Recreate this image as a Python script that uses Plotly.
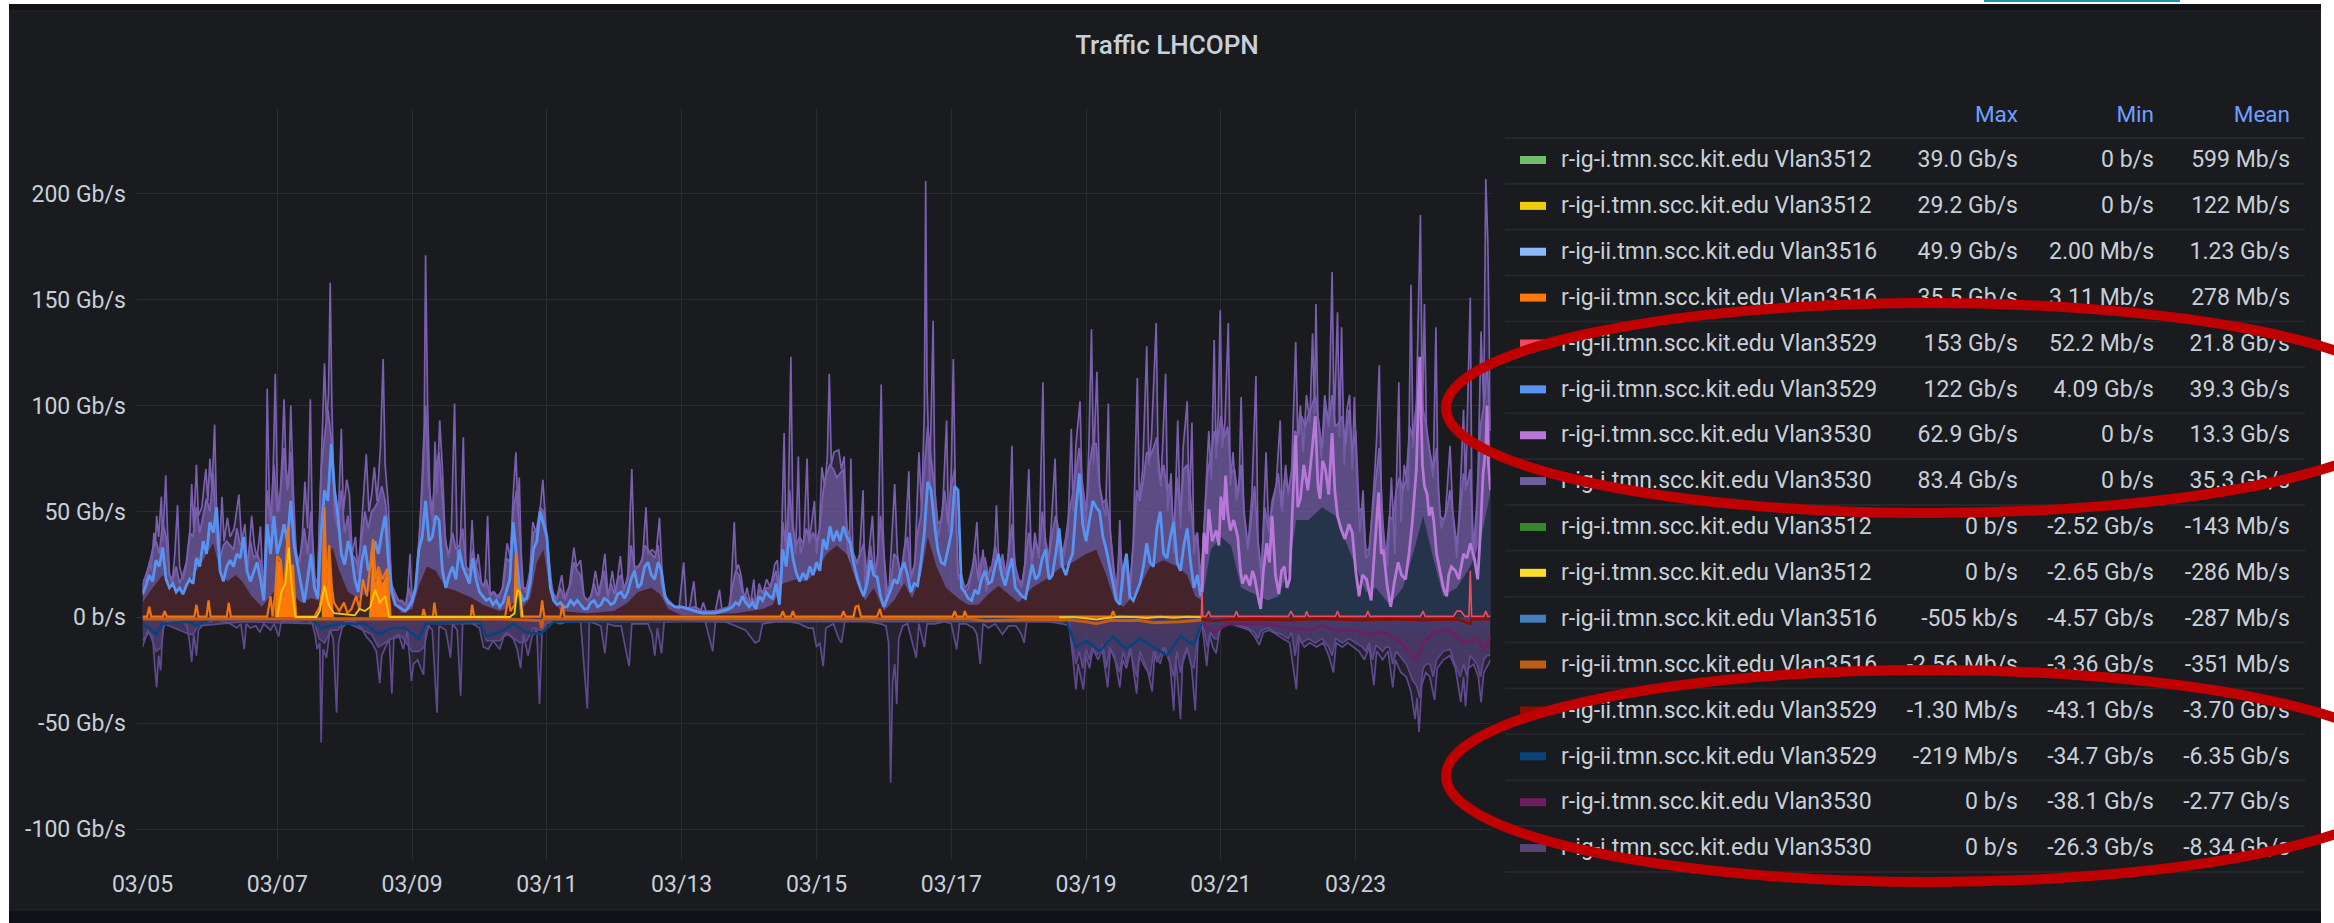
import pandas as pd
import plotly.graph_objects as go

# ---- data: (days after 03/05, Gb/s)
purple_out = [(0,12),(.02,18),(.06,17),(.1,26),(.13,22),(.17,40),(.19,34),(.21,48),(.24,38),(.28,57),(.3,36),(.345,67),(.37,42),(.4,20),(.44,16),(.48,30),(.52,53),(.55,24),(.6,18),(.65,24),(.7,38),(.73,63),(.76,42),(.8,72),(.83,48),(.88,52),(.94,70),(.97,55),(1,75),(1.03,60),(1.07,91),(1.1,48),(1.14,30),(1.18,57),(1.21,36),(1.26,47),(1.3,38),(1.36,42),(1.43,58),(1.47,36),(1.52,44),(1.56,22),(1.62,48),(1.66,34),(1.7,28),(1.75,43),(1.79,12),(1.82,20),(1.85,108),(1.88,58),(1.91,42),(1.94,70),(1.97,115),(2,60),(2.03,50),(2.07,75),(2.1,103),(2.13,70),(2.17,62),(2.2,100),(2.24,58),(2.28,30),(2.33,26),(2.37,38),(2.41,64),(2.45,42),(2.49,103),(2.52,40),(2.56,18),(2.6,16),(2.64,60),(2.67,95),(2.7,120),(2.73,92),(2.76,105),(2.785,158),(2.81,100),(2.85,48),(2.9,42),(2.95,89),(2.98,50),(3.03,65),(3.07,58),(3.11,30),(3.16,38),(3.2,20),(3.25,45),(3.32,77),(3.36,50),(3.4,58),(3.44,71),(3.48,55),(3.53,80),(3.57,122),(3.6,72),(3.65,52),(3.69,16),(3.74,12),(3.8,8),(3.86,7),(3.92,5),(3.97,30),(4,5),(4.06,12),(4.11,38),(4.15,67),(4.18,90),(4.2,171),(4.23,100),(4.27,52),(4.31,45),(4.34,83),(4.37,58),(4.41,93),(4.45,70),(4.49,38),(4.54,28),(4.58,38),(4.63,101),(4.67,30),(4.71,28),(4.76,85),(4.8,22),(4.85,18),(4.89,46),(4.93,20),(4.98,30),(5.03,16),(5.08,14),(5.12,48),(5.16,10),(5.22,12),(5.28,9),(5.34,14),(5.41,35),(5.46,28),(5.5,58),(5.54,78),(5.57,50),(5.59,66),(5.63,14),(5.68,12),(5.74,18),(5.79,45),(5.84,40),(5.89,48),(5.94,65),(5.98,45),(6.03,28),(6.08,12),(6.14,8),(6.22,20),(6.27,8),(6.33,14),(6.4,33),(6.44,24),(6.5,27),(6.55,10),(6.6,8),(6.66,10),(6.72,22),(6.78,10),(6.86,30),(6.91,9),(6.97,22),(7.02,11),(7.09,29),(7.14,12),(7.2,20),(7.26,70),(7.3,22),(7.36,24),(7.42,28),(7.47,52),(7.5,30),(7.56,32),(7.62,30),(7.67,47),(7.72,14),(7.78,9),(7.84,7),(7.9,5),(7.96,4),(8.03,26),(8.07,4),(8.12,5),(8.18,17),(8.22,3),(8.27,2),(8.32,7),(8.37,2),(8.44,3),(8.5,3),(8.56,13),(8.6,3),(8.66,3),(8.72,6),(8.78,45),(8.81,22),(8.84,25),(8.88,20),(8.93,8),(8.97,14),(9.02,6),(9.07,18),(9.1,5),(9.15,16),(9.2,11),(9.26,18),(9.32,14),(9.38,25),(9.42,27),(9.46,8),(9.5,60),(9.52,87),(9.55,30),(9.58,50),(9.62,123),(9.65,45),(9.69,30),(9.73,76),(9.76,30),(9.81,35),(9.86,75),(9.89,35),(9.93,45),(9.97,55),(10,30),(10.04,40),(10.08,71),(10.12,62),(10.16,75),(10.19,115),(10.22,72),(10.26,78),(10.33,79),(10.37,70),(10.41,76),(10.45,40),(10.48,15),(10.51,75),(10.54,30),(10.6,25),(10.64,30),(10.69,60),(10.72,12),(10.77,28),(10.83,48),(10.87,20),(10.91,30),(10.96,110),(10.99,40),(11.03,8),(11.08,15),(11.16,63),(11.2,30),(11.26,15),(11.32,38),(11.37,69),(11.4,18),(11.46,25),(11.52,78),(11.56,50),(11.6,98),(11.62,206),(11.64,110),(11.68,62),(11.73,140),(11.76,50),(11.81,38),(11.87,50),(11.93,93),(11.96,40),(12,70),(12.03,122),(12.06,60),(12.1,18),(12.15,20),(12.2,12),(12.26,14),(12.32,24),(12.38,45),(12.42,16),(12.47,32),(12.52,12),(12.58,24),(12.63,20),(12.67,53),(12.71,22),(12.76,30),(12.82,18),(12.86,38),(12.9,81),(12.93,28),(12.98,18),(13.04,14),(13.09,25),(13.15,70),(13.19,24),(13.24,40),(13.3,28),(13.36,111),(13.39,35),(13.43,22),(13.48,42),(13.54,75),(13.57,38),(13.62,24),(13.68,30),(13.73,40),(13.78,89),(13.81,50),(13.85,82),(13.91,102),(13.94,60),(14,42),(14.04,80),(14.08,136),(14.11,72),(14.16,116),(14.2,62),(14.25,52),(14.29,48),(14.33,101),(14.36,40),(14.41,22),(14.46,8),(14.5,46),(14.54,12),(14.59,30),(14.64,8),(14.7,36),(14.76,113),(14.79,55),(14.84,70),(14.9,128),(14.93,72),(14.97,85),(15.04,139),(15.07,70),(15.11,62),(15.18,115),(15.21,50),(15.26,68),(15.3,30),(15.36,93),(15.4,42),(15.44,80),(15.5,102),(15.53,50),(15.57,92),(15.6,30),(15.65,40),(15.7,10),(15.74,38),(15.78,60),(15.82,88),(15.86,65),(15.9,131),(15.93,75),(15.96,95),(15.99,145),(16.02,80),(16.06,92),(16.11,139),(16.14,62),(16.18,78),(16.23,55),(16.27,62),(16.3,104),(16.34,50),(16.4,32),(16.46,58),(16.52,114),(16.55,35),(16.6,18),(16.67,78),(16.71,40),(16.76,55),(16.82,62),(16.88,93),(16.91,50),(16.96,72),(17,58),(17.05,70),(17.11,130),(17.14,85),(17.18,100),(17.22,78),(17.27,105),(17.32,92),(17.36,134),(17.39,96),(17.41,148),(17.44,95),(17.49,75),(17.54,105),(17.6,90),(17.65,163),(17.68,90),(17.73,144),(17.76,85),(17.79,137),(17.83,72),(17.87,98),(17.91,105),(17.95,70),(17.98,104),(18.02,66),(18.06,40),(18.11,60),(18.15,28),(18.2,30),(18.27,62),(18.31,84),(18.35,119),(18.38,60),(18.42,30),(18.47,24),(18.53,66),(18.58,30),(18.64,111),(18.67,45),(18.72,72),(18.78,60),(18.82,157),(18.85,80),(18.9,100),(18.96,190),(18.99,95),(19.02,148),(19.05,88),(19.1,76),(19.15,66),(19.19,137),(19.22,62),(19.27,42),(19.33,48),(19.4,81),(19.44,50),(19.5,28),(19.55,58),(19.6,98),(19.63,60),(19.7,151),(19.73,30),(19.77,22),(19.82,75),(19.86,135),(19.9,100),(19.93,207),(19.96,178),(20,88)]

# dense body of the same series, where its line runs together into a solid band
purple_core = [(0,15),(.05,20),(.1,25),(.15,32),(.2,36),(.25,30),(.3,45),(.35,38),(.4,20),(.45,18),(.5,24),(.55,16),(.6,20),(.65,26),(.7,40),(.75,38),(.8,52),(.85,40),(.9,48),(.95,56),(1,50),(1.05,68),(1.1,36),(1.15,28),(1.2,34),(1.25,36),(1.3,34),(1.35,32),(1.4,42),(1.45,34),(1.5,38),(1.55,24),(1.6,36),(1.65,28),(1.7,30),(1.75,26),(1.8,14),(1.85,60),(1.9,46),(1.95,72),(2,50),(2.05,60),(2.1,80),(2.15,60),(2.2,78),(2.25,40),(2.3,26),(2.35,30),(2.4,42),(2.45,30),(2.5,50),(2.55,18),(2.6,18),(2.65,70),(2.7,85),(2.75,98),(2.8,85),(2.85,52),(2.9,45),(2.95,60),(3,40),(3.05,48),(3.1,30),(3.15,28),(3.2,24),(3.25,38),(3.3,50),(3.35,42),(3.4,50),(3.45,52),(3.5,55),(3.55,62),(3.6,55),(3.65,40),(3.7,14),(3.75,10),(3.8,8),(3.85,8),(3.9,6),(3.95,14),(4,7),(4.05,12),(4.1,36),(4.15,60),(4.2,100),(4.25,62),(4.3,50),(4.35,70),(4.4,78),(4.45,58),(4.5,34),(4.55,30),(4.6,40),(4.65,32),(4.7,34),(4.75,42),(4.8,24),(4.85,22),(4.9,32),(4.95,24),(5,18),(5.05,15),(5.1,18),(5.15,11),(5.2,12),(5.25,10),(5.3,11),(5.35,14),(5.4,28),(5.45,26),(5.5,50),(5.55,60),(5.6,40),(5.65,14),(5.7,14),(5.75,22),(5.8,40),(5.85,42),(5.9,52),(5.95,50),(6,36),(6.05,18),(6.1,11),(6.15,9),(6.2,14),(6.25,9),(6.3,12),(6.35,16),(6.4,26),(6.45,22),(6.5,20),(6.55,10),(6.6,8),(6.65,10),(6.7,16),(6.75,10),(6.8,16),(6.85,22),(6.9,10),(6.95,16),(7,11),(7.05,18),(7.1,20),(7.15,14),(7.2,18),(7.25,34),(7.3,24),(7.35,24),(7.4,26),(7.45,34),(7.5,32),(7.55,30),(7.6,28),(7.65,34),(7.7,16),(7.75,10),(7.8,8),(7.9,5),(8,5),(8.1,4),(8.2,5),(8.3,3),(8.4,3),(8.5,3),(8.6,4),(8.7,5),(8.75,14),(8.8,22),(8.85,20),(8.9,12),(8.95,10),(9,7),(9.05,9),(9.1,6),(9.15,13),(9.2,12),(9.25,14),(9.3,14),(9.35,18),(9.4,22),(9.45,10),(9.5,45),(9.55,32),(9.6,60),(9.65,42),(9.7,34),(9.75,38),(9.8,35),(9.85,42),(9.9,36),(9.95,40),(10,36),(10.05,42),(10.1,60),(10.15,68),(10.2,72),(10.25,70),(10.3,66),(10.35,68),(10.4,70),(10.45,42),(10.5,38),(10.55,30),(10.6,26),(10.65,30),(10.7,35),(10.75,20),(10.8,34),(10.85,22),(10.9,26),(10.95,48),(11,28),(11.05,12),(11.1,16),(11.15,30),(11.2,28),(11.25,20),(11.3,32),(11.35,38),(11.4,20),(11.45,24),(11.5,40),(11.55,48),(11.6,70),(11.65,90),(11.7,75),(11.75,62),(11.8,44),(11.85,46),(11.9,60),(11.95,44),(12,62),(12.05,70),(12.1,20),(12.15,20),(12.2,14),(12.25,16),(12.3,22),(12.35,30),(12.4,18),(12.45,28),(12.5,28),(12.55,20),(12.6,24),(12.65,34),(12.7,26),(12.75,28),(12.8,20),(12.85,30),(12.9,44),(12.95,24),(13,18),(13.05,16),(13.1,26),(13.15,40),(13.2,28),(13.25,36),(13.3,30),(13.35,50),(13.4,36),(13.45,28),(13.5,40),(13.55,48),(13.6,40),(13.65,30),(13.7,38),(13.75,50),(13.8,58),(13.85,70),(13.9,80),(13.95,62),(14,50),(14.05,72),(14.1,82),(14.15,82),(14.2,62),(14.25,54),(14.3,56),(14.35,44),(14.4,24),(14.45,14),(14.5,34),(14.55,18),(14.6,30),(14.65,14),(14.7,34),(14.75,60),(14.8,55),(14.85,65),(14.9,78),(14.95,76),(15,80),(15.05,85),(15.1,65),(15.15,72),(15.2,60),(15.25,64),(15.3,40),(15.35,66),(15.4,48),(15.45,70),(15.5,72),(15.55,56),(15.6,36),(15.65,40),(15.7,18),(15.75,42),(15.8,68),(15.85,76),(15.9,88),(15.95,82),(16,95),(16.05,85),(16.1,90),(16.15,68),(16.2,70),(16.25,58),(16.3,72),(16.35,48),(16.4,34),(16.45,46),(16.5,62),(16.55,36),(16.6,22),(16.65,52),(16.7,42),(16.75,50),(16.8,60),(16.85,68),(16.9,52),(16.95,66),(17,60),(17.05,68),(17.1,88),(17.15,86),(17.2,95),(17.25,90),(17.3,96),(17.35,100),(17.4,105),(17.45,92),(17.5,80),(17.55,100),(17.6,92),(17.65,105),(17.7,90),(17.75,92),(17.8,95),(17.85,82),(17.9,98),(17.95,78),(18,88),(18.05,50),(18.1,52),(18.15,32),(18.2,32),(18.25,50),(18.3,66),(18.35,80),(18.4,45),(18.45,28),(18.5,48),(18.55,46),(18.6,60),(18.65,66),(18.7,60),(18.75,65),(18.8,90),(18.85,85),(18.9,100),(18.95,120),(19,98),(19.05,90),(19.1,78),(19.15,70),(19.2,80),(19.25,48),(19.3,46),(19.35,50),(19.4,60),(19.45,48),(19.5,34),(19.55,50),(19.6,68),(19.65,62),(19.7,70),(19.75,32),(19.8,55),(19.85,90),(19.9,100),(19.95,120),(20,88)]

blue_out = [(0,11),(.05,15),(.1,20),(.15,17),(.2,27),(.25,24),(.3,33),(.35,18),(.4,14),(.45,16),(.5,12),(.55,14),(.6,11),(.65,15),(.7,18),(.75,16),(.8,28),(.85,24),(.9,36),(.95,30),(1,45),(1.05,40),(1.1,52),(1.15,22),(1.2,17),(1.25,24),(1.3,27),(1.35,24),(1.4,30),(1.45,28),(1.5,38),(1.55,22),(1.6,17),(1.65,22),(1.7,26),(1.75,18),(1.8,8),(1.85,44),(1.9,30),(1.95,48),(2,30),(2.05,36),(2.1,44),(2.15,36),(2.2,55),(2.25,34),(2.3,25),(2.35,14),(2.4,7),(2.45,18),(2.5,30),(2.55,14),(2.6,9),(2.65,40),(2.7,60),(2.75,55),(2.8,82),(2.85,60),(2.9,48),(2.95,30),(3,25),(3.05,36),(3.1,30),(3.15,18),(3.2,12),(3.25,26),(3.3,34),(3.35,22),(3.4,25),(3.45,36),(3.5,30),(3.55,40),(3.6,48),(3.65,26),(3.7,12),(3.75,6),(3.8,5),(3.85,4),(3.9,3),(3.95,5),(4,8),(4.05,14),(4.1,32),(4.15,38),(4.2,55),(4.25,36),(4.3,38),(4.35,48),(4.4,46),(4.45,22),(4.5,14),(4.55,20),(4.6,24),(4.65,18),(4.7,32),(4.75,24),(4.8,20),(4.85,16),(4.9,28),(4.95,18),(5,12),(5.05,10),(5.1,8),(5.15,9),(5.2,6),(5.25,8),(5.3,5),(5.35,7),(5.4,12),(5.45,18),(5.5,45),(5.55,30),(5.6,12),(5.65,8),(5.7,9),(5.75,16),(5.8,32),(5.85,36),(5.9,50),(5.95,44),(6,38),(6.05,14),(6.1,8),(6.15,6),(6.2,7),(6.25,5),(6.3,5),(6.35,8),(6.4,6),(6.45,8),(6.5,6),(6.55,4),(6.6,4),(6.65,7),(6.7,8),(6.75,5),(6.8,6),(6.85,9),(6.9,8),(6.95,6),(7,7),(7.05,11),(7.1,12),(7.15,9),(7.2,12),(7.25,18),(7.3,22),(7.35,14),(7.4,16),(7.45,24),(7.5,26),(7.55,20),(7.6,18),(7.65,26),(7.7,22),(7.75,10),(7.8,7),(7.85,6),(7.9,5),(8,5),(8.1,4),(8.2,3),(8.3,2),(8.4,2),(8.5,2),(8.6,3),(8.7,4),(8.75,5),(8.8,7),(8.85,6),(8.9,10),(8.95,7),(9,5),(9.05,7),(9.1,4),(9.15,10),(9.2,8),(9.25,12),(9.3,10),(9.35,9),(9.4,16),(9.45,6),(9.5,32),(9.55,24),(9.6,40),(9.65,28),(9.7,21),(9.75,17),(9.8,21),(9.85,18),(9.9,24),(9.95,20),(10,26),(10.05,22),(10.1,37),(10.15,32),(10.2,43),(10.25,36),(10.3,41),(10.35,36),(10.4,43),(10.45,38),(10.5,35),(10.55,26),(10.6,19),(10.65,14),(10.7,10),(10.75,16),(10.8,27),(10.85,20),(10.9,19),(10.95,10),(11,5),(11.05,9),(11.1,13),(11.15,18),(11.2,16),(11.25,22),(11.3,26),(11.35,20),(11.4,12),(11.45,16),(11.5,15),(11.55,26),(11.6,40),(11.65,64),(11.7,60),(11.75,44),(11.8,32),(11.85,26),(11.9,25),(11.95,32),(12,40),(12.05,62),(12.1,60),(12.15,14),(12.2,12),(12.25,9),(12.3,8),(12.35,13),(12.4,11),(12.45,18),(12.5,22),(12.55,16),(12.6,17),(12.65,24),(12.7,30),(12.75,20),(12.8,15),(12.85,22),(12.9,28),(12.95,14),(13,12),(13.05,10),(13.1,9),(13.15,18),(13.2,25),(13.25,18),(13.3,20),(13.35,28),(13.4,32),(13.45,18),(13.5,20),(13.55,30),(13.6,42),(13.65,24),(13.7,20),(13.75,26),(13.8,30),(13.85,52),(13.9,68),(13.95,44),(14,36),(14.05,46),(14.1,55),(14.15,52),(14.2,50),(14.25,38),(14.3,32),(14.35,24),(14.4,16),(14.45,8),(14.5,6),(14.55,22),(14.6,30),(14.65,10),(14.7,8),(14.75,12),(14.8,16),(14.85,24),(14.9,35),(14.95,26),(15,24),(15.05,42),(15.1,50),(15.15,30),(15.2,28),(15.25,38),(15.3,45),(15.35,26),(15.4,22),(15.45,34),(15.5,42),(15.55,26),(15.6,14),(15.65,20),(15.7,10)]

violet_out = [(15.72,12),(15.75,40),(15.79,30),(15.82,51),(15.87,36),(15.93,41),(15.97,34),(16,57),(16.04,46),(16.07,67),(16.1,50),(16.14,41),(16.19,46),(16.25,38),(16.29,22),(16.32,16),(16.37,20),(16.43,15),(16.47,22),(16.5,19),(16.55,10),(16.59,4),(16.63,22),(16.68,35),(16.72,26),(16.76,48),(16.81,20),(16.86,11),(16.9,22),(16.94,24),(16.98,14),(17.02,18),(17.06,50),(17.11,86),(17.14,52),(17.18,56),(17.23,72),(17.29,60),(17.35,78),(17.4,95),(17.44,62),(17.47,56),(17.51,74),(17.55,70),(17.6,58),(17.65,87),(17.69,60),(17.73,48),(17.78,42),(17.84,37),(17.9,44),(17.95,40),(18,22),(18.05,10),(18.1,20),(18.16,18),(18.2,12),(18.23,8),(18.28,32),(18.34,59),(18.38,30),(18.41,32),(18.47,14),(18.52,5),(18.57,16),(18.63,26),(18.68,20),(18.74,18),(18.79,30),(18.84,45),(18.9,70),(18.95,123),(18.99,72),(19.02,62),(19.06,58),(19.09,48),(19.13,52),(19.16,45),(19.2,30),(19.24,24),(19.3,14),(19.35,10),(19.38,20),(19.42,24),(19.48,22),(19.53,18),(19.57,26),(19.6,30),(19.65,28),(19.7,35),(19.76,28),(19.81,18),(19.85,40),(19.89,68),(19.93,80),(19.95,100),(19.97,72),(20,60)]

maroon_top = [(0,7),(.15,14),(.3,20),(.45,14),(.6,13),(.8,22),(1.05,35),(1.15,22),(1.26,17),(1.38,20),(1.48,17),(1.62,10),(1.77,5),(1.9,10),(2.05,16),(2.2,12),(2.35,7),(2.5,9),(2.62,8),(2.72,28),(2.82,33),(2.92,22),(3.05,12),(3.2,9),(3.35,12),(3.5,15),(3.62,16),(3.72,7),(3.85,2),(4,4),(4.1,15),(4.22,24),(4.35,22),(4.5,14),(4.62,13),(4.75,11),(4.9,9),(5.05,6),(5.3,3),(5.45,5),(5.55,9),(5.65,5),(5.75,9),(5.85,26),(5.95,32),(6.05,12),(6.2,3),(6.6,2),(7,3),(7.2,7),(7.35,12),(7.55,14),(7.68,11),(7.8,4),(8,1),(8.8,2),(9.2,4),(9.35,6),(9.5,16),(9.7,18),(9.85,17),(10,22),(10.15,30),(10.3,34),(10.45,30),(10.6,16),(10.72,8),(10.85,14),(11,3),(11.15,8),(11.3,16),(11.42,9),(11.55,20),(11.65,38),(11.78,24),(11.92,14),(12.1,9),(12.25,6),(12.4,6),(12.55,11),(12.7,15),(12.85,11),(13,7),(13.2,14),(13.4,18),(13.6,23),(13.8,26),(14,30),(14.15,32),(14.3,20),(14.42,8),(14.55,5),(14.75,12),(14.95,24),(15.15,27),(15.35,24),(15.5,20),(15.62,10),(15.71,8)]
navy_top = [(15.72,8),(15.85,32),(16,38),(16.15,34),(16.3,14),(16.5,11),(16.7,8),(16.85,10),(17,22),(17.12,46),(17.3,46),(17.5,52),(17.7,48),(17.85,36),(18,24),(18.15,12),(18.3,14),(18.5,6),(18.7,14),(18.85,30),(19,48),(19.15,28),(19.3,10),(19.5,14),(19.7,24),(19.85,36),(20,59)]

orange_out = [(0,.4),(.07,.4),(.1,5),(.13,.4),(.3,.4),(.33,3),(.36,.4),(.77,.4),(.8,6),(.83,.4),(.95,.4),(.98,8),(1.01,.4),(1.25,.4),(1.28,7),(1.31,.4),(1.85,.4),(1.9,10),(1.93,.4),(1.97,12),(2,29),(2.05,27),(2.1,10),(2.16,43),(2.2,20),(2.23,25),(2.28,.4),(2.55,.4),(2.63,5),(2.67,14),(2.7,52),(2.73,16),(2.77,34),(2.81,14),(2.84,7),(2.92,3),(2.99,7),(3.04,2),(3.1,4),(3.17,10),(3.22,4),(3.27,18),(3.33,10),(3.38,25),(3.42,37),(3.46,18),(3.5,24),(3.56,18),(3.63,23),(3.68,.4),(4.15,.4),(4.17,4),(4.2,.4),(4.31,.4),(4.33,7),(4.36,.4),(4.87,.4),(4.89,6),(4.92,.4),(5.38,.4),(5.43,10),(5.46,3),(5.52,6),(5.54,30),(5.56,10),(5.59,14),(5.62,.4),(5.9,.4),(5.93,8),(5.96,.4),(6.2,.4),(6.23,6),(6.26,.4),(7,.4),(9.47,.4),(9.5,3),(9.53,.4),(9.62,.4),(9.65,3),(9.68,.4),(10.37,.4),(10.4,3),(10.43,.4),(10.55,.4),(10.58,5),(10.62,5.5),(10.66,.4),(10.9,.4),(10.94,4),(10.97,.4),(12.02,.4),(12.05,3),(12.08,.4),(12.18,.4),(12.2,3),(12.23,.4),(14.37,.4),(14.4,3),(14.43,.4),(15,.4),(15.71,.4)]
# the orange band fills solid under its peaks
orange_core = [(1.96,.1),(2,27),(2.05,26),(2.1,9),(2.16,38),(2.2,18),(2.23,22),(2.27,.1),(2.66,.1),(2.7,50),(2.73,14),(2.77,32),(2.81,12),(2.84,.1),(3.36,.1),(3.42,34),(3.46,16),(3.5,22),(3.56,16),(3.63,21),(3.67,.1)]
yellow_peaks = [(2.0,.2),(2.06,12),(2.12,16),(2.17,33),(2.21,16),(2.27,.2),(2.58,.2),(2.63,3),(2.7,15),(2.76,6),(2.84,2),(3.15,1),(3.22,4),(3.3,3),(3.38,5),(3.45,13),(3.52,7),(3.6,10),(3.66,.2),(5.45,.2),(5.52,2),(5.56,13),(5.6,12),(5.64,.2)]
yellow_band = [(13.6,.1),(13.8,.2),(14,-.4),(14.15,-1),(14.3,-.3),(14.5,.3),(14.7,.2),(14.9,-.3),(15.1,.3),(15.3,-.2),(15.5,.3),(15.71,.1)]
green_fill = [(2.05,.1),(2.1,13),(2.2,12),(2.26,.1),(2.6,.1),(2.7,10),(2.8,.1),(3.3,.1),(3.45,8),(3.6,9),(3.66,.1),(5.5,.1),(5.57,11),(5.63,.1)]

# negative side
purple_in = [(0,-14),(.04,-10),(.08,-6),(.11,-8),(.15,-9),(.18,-22),(.21,-33),(.24,-18),(.27,-25),(.3,-6),(.34,-2),(.4,-2),(.5,-2),(.6,-2),(.66,-4),(.7,-12),(.73,-21),(.76,-8),(.8,-18),(.83,-6),(.88,-4),(.93,-2),(1,-2),(1.1,-1),(1.2,-2),(1.3,-3),(1.4,-5),(1.46,-3),(1.51,-15),(1.54,-3),(1.6,-5),(1.68,-4),(1.74,-7),(1.8,-3),(1.9,-6),(1.95,-3),(2.02,-9),(2.06,-2),(2.15,-2),(2.3,-2),(2.45,-1),(2.52,-3),(2.56,-8),(2.59,-15),(2.63,-12),(2.65,-59),(2.68,-15),(2.73,-19),(2.78,-6),(2.83,-10),(2.88,-45),(2.91,-12),(2.96,-5),(3.05,-2),(3.15,-2),(3.25,-5),(3.32,-9),(3.4,-12),(3.47,-16),(3.52,-31),(3.55,-18),(3.6,-14),(3.66,-10),(3.7,-36),(3.73,-9),(3.8,-8),(3.87,-15),(3.93,-6),(3.99,-30),(4.02,-22),(4.08,-20),(4.13,-24),(4.17,-27),(4.2,-8),(4.25,-4),(4.3,-6),(4.37,-45),(4.4,-4),(4.45,-5),(4.5,-6),(4.57,-19),(4.6,-3),(4.67,-6),(4.72,-37),(4.75,-3),(4.83,-2),(4.9,-3),(5,-5),(5.06,-14),(5.13,-15),(5.2,-11),(5.3,-15),(5.36,-9),(5.42,-8),(5.5,-10),(5.56,-15),(5.61,-24),(5.65,-8),(5.72,-18),(5.78,-9),(5.85,-5),(5.89,-41),(5.93,-6),(6,-3),(6.1,-2),(6.2,-3),(6.3,-2),(6.4,-2),(6.5,-2),(6.6,-43),(6.63,-2),(6.72,-3),(6.8,-4),(6.86,-17),(6.9,-3),(7,-4),(7.1,-4),(7.22,-23),(7.26,-3),(7.38,-3),(7.5,-3),(7.56,-8),(7.6,-18),(7.64,-5),(7.7,-17),(7.74,-2),(7.85,-2),(8,-1),(8.2,-1),(8.35,-2),(8.46,-16),(8.5,-2),(8.65,-2),(8.8,-4),(8.95,-6),(9.09,-12),(9.15,-11),(9.2,-3),(9.4,-2),(9.6,-2),(9.75,-3),(9.88,-5),(9.95,-5),(10,-14),(10.05,-12),(10.1,-23),(10.14,-5),(10.25,-3),(10.33,-10),(10.37,-12),(10.42,-2),(10.6,-1),(10.8,-2),(10.95,-3),(11.03,-4),(11.07,-12),(11.1,-78),(11.13,-30),(11.16,-22),(11.19,-41),(11.22,-10),(11.28,-4),(11.35,-3),(11.42,-12),(11.48,-19),(11.52,-3),(11.6,-14),(11.64,-3),(11.75,-3),(11.9,-2),(12,-3),(12.08,-15),(12.12,-3),(12.22,-3),(12.33,-5),(12.38,-8),(12.43,-22),(12.47,-3),(12.55,-5),(12.65,-3),(12.76,-8),(12.85,-4),(12.96,-4),(13.04,-8),(13.08,-12),(13.12,-2),(13.25,-2),(13.45,-2),(13.65,-3),(13.75,-4),(13.8,-18),(13.85,-34),(13.88,-22),(13.92,-28),(13.96,-34),(14,-18),(14.05,-24),(14.1,-15),(14.18,-20),(14.24,-15),(14.32,-33),(14.36,-15),(14.42,-18),(14.5,-33),(14.54,-20),(14.6,-24),(14.66,-15),(14.75,-36),(14.79,-18),(14.85,-22),(14.92,-26),(14.98,-35),(15.02,-16),(15.1,-22),(15.16,-14),(15.24,-20),(15.3,-44),(15.33,-18),(15.4,-48),(15.43,-22),(15.5,-15),(15.56,-22),(15.62,-44),(15.66,-10),(15.72,-3),(15.79,-23),(15.83,-8),(15.88,-14),(15.93,-17),(15.98,-6),(16.06,-4),(16.15,-3),(16.24,-4),(16.34,-5),(16.42,-6),(16.5,-9),(16.57,-13),(16.63,-7),(16.72,-6),(16.82,-8),(16.92,-10),(17.02,-12),(17.12,-34),(17.16,-10),(17.24,-14),(17.32,-12),(17.42,-14),(17.52,-12),(17.6,-18),(17.67,-26),(17.71,-12),(17.8,-14),(17.88,-12),(17.97,-14),(18.05,-16),(18.13,-20),(18.2,-14),(18.27,-32),(18.31,-16),(18.4,-20),(18.48,-16),(18.55,-33),(18.59,-20),(18.67,-26),(18.75,-28),(18.82,-35),(18.88,-48),(18.91,-38),(18.94,-54),(18.98,-32),(19.04,-26),(19.1,-28),(19.17,-39),(19.21,-24),(19.3,-20),(19.4,-18),(19.48,-24),(19.56,-40),(19.6,-28),(19.63,-42),(19.67,-24),(19.75,-22),(19.82,-28),(19.86,-40),(19.9,-26),(19.97,-22),(20,-20)]
purple_in_core = [(0,-11),(.1,-7),(.2,-16),(.28,-14),(.32,-3),(.7,-8),(.75,-8),(.82,-4),(1.5,-2),(2.56,-3),(2.62,-10),(2.7,-12),(2.8,-6),(2.9,-6),(3,-2),(3.4,-8),(3.5,-14),(3.6,-12),(3.7,-10),(3.85,-9),(4,-16),(4.1,-16),(4.18,-14),(4.25,-3),(5.02,-3),(5.1,-11),(5.3,-11),(5.4,-7),(5.6,-12),(5.7,-11),(5.8,-5),(5.9,-6),(6,-2),(13.75,-2),(13.8,-14),(13.85,-22),(13.9,-16),(13.95,-24),(14,-15),(14.05,-20),(14.1,-13),(14.15,-18),(14.2,-16),(14.25,-13),(14.3,-24),(14.35,-14),(14.4,-18),(14.45,-22),(14.5,-26),(14.55,-16),(14.6,-22),(14.65,-14),(14.7,-22),(14.75,-28),(14.8,-16),(14.85,-20),(14.9,-24),(14.95,-28),(15,-16),(15.05,-21),(15.1,-18),(15.15,-14),(15.2,-18),(15.25,-22),(15.3,-28),(15.35,-16),(15.4,-26),(15.45,-18),(15.5,-14),(15.55,-22),(15.6,-24),(15.65,-10),(15.7,-3),(15.75,-6),(15.8,-14),(15.85,-7),(15.9,-10),(15.95,-10),(16,-5),(16.1,-3),(16.2,-3),(16.3,-4),(16.4,-5),(16.5,-7),(16.55,-10),(16.6,-6),(16.7,-5),(16.8,-7),(16.9,-8),(17,-10),(17.05,-7),(17.1,-18),(17.15,-8),(17.2,-12),(17.3,-10),(17.4,-12),(17.5,-10),(17.6,-14),(17.65,-18),(17.7,-10),(17.8,-12),(17.9,-10),(18,-12),(18.1,-14),(18.15,-16),(18.2,-12),(18.25,-20),(18.3,-13),(18.4,-16),(18.45,-14),(18.5,-14),(18.55,-22),(18.6,-16),(18.7,-20),(18.75,-22),(18.8,-26),(18.85,-30),(18.9,-32),(18.95,-38),(19,-24),(19.05,-22),(19.1,-22),(19.15,-28),(19.2,-20),(19.3,-16),(19.4,-15),(19.45,-20),(19.55,-28),(19.6,-22),(19.65,-28),(19.7,-18),(19.8,-22),(19.85,-28),(19.9,-20),(19.95,-18),(20,-18)]
navy_in = [(0,-3),(.1,-5),(.2,-8),(.3,-3),(.7,-2),(.8,-4),(1,-1),(2.5,-1),(2.65,-5),(2.9,-3),(3.3,-3),(3.5,-8),(3.7,-5),(3.9,-5),(4.1,-10),(4.2,-3),(5,-2),(5.1,-9),(5.3,-7),(5.5,-3),(5.7,-7),(5.9,-8),(6.1,-2),(9,-1),(13.7,-1),(13.85,-14),(14,-11),(14.2,-16),(14.4,-9),(14.6,-15),(14.8,-10),(15,-14),(15.2,-18),(15.4,-9),(15.6,-13),(15.71,-3)]
magenta_in = [(15.75,-3),(15.9,-7),(16.1,-3),(16.4,-3),(16.7,-3),(17,-5),(17.3,-6),(17.5,-4),(17.7,-6),(18,-6),(18.2,-8),(18.4,-7),(18.6,-10),(18.8,-16),(18.9,-20),(19,-12),(19.2,-6),(19.4,-6),(19.6,-12),(19.8,-10),(19.9,-15),(20,-9)]
brown_in = [(0,-.7),(5.3,-.7),(5.9,-1.5),(5.92,-5),(5.95,-.7),(6.6,-.7),(12.3,-.7),(12.5,-1.6),(13.2,-.8),(13.7,-1),(14,-2),(14.15,-3),(14.35,-1.5),(14.8,-1.5),(15,-2.5),(15.4,-2),(15.71,-1.2)]
darkred_in = [(15.72,-.8),(15.9,-1.6),(16.1,-1),(16.5,-.8),(17,-1.2),(17.5,-.6),(18,-1.2),(18.5,-.8),(19,-1.2),(19.5,-.8),(19.7,-3),(19.72,-.8),(20,-.8)]
red_out = [(15.71,.2),(15.72,12),(15.73,.5),(15.78,.5),(15.82,3),(15.85,.5),(16.2,.5),(16.23,3),(16.26,.5),(17.0,.5),(17.04,3),(17.08,.5),(17.25,.5),(17.27,3),(17.3,.5),(17.7,.5),(17.73,3),(17.76,.5),(18.15,.5),(18.18,3),(18.21,.5),(18.7,.5),(18.96,.5),(19,3),(19.03,.5),(19.45,.5),(19.5,3),(19.56,3),(19.62,.5),(19.68,.5),(19.7,22),(19.72,.5),(19.9,.5),(19.93,3),(19.96,.5),(20,.5)]
maroon_in = [(0,-3),(.3,-2),(.4,0),(3.4,0),(3.5,-5),(4.2,-5),(4.3,0),(5,-.5),(5.1,-5),(5.9,-7),(6,-.5),(13.7,-.5),(13.85,-7),(15,-6),(15.5,-4),(15.71,-2)]
navy_dark_in = [(15.72,-3),(16,-5),(17,-6),(18,-6),(19,-7),(20,-6)]

tick_dates = ["03/05", "03/07", "03/09", "03/11", "03/13", "03/15", "03/17", "03/19", "03/21", "03/23"]
y_ticks = [-100, -50, 0, 50, 100, 150, 200]
y_tick_labels = ["-100 Gb/s", "-50 Gb/s", "0 b/s", "50 Gb/s", "100 Gb/s", "150 Gb/s", "200 Gb/s"]

legend_names = ["r-ig-i.tmn.scc.kit.edu Vlan3512", "r-ig-i.tmn.scc.kit.edu Vlan3512", "r-ig-ii.tmn.scc.kit.edu Vlan3516", "r-ig-ii.tmn.scc.kit.edu Vlan3516",
                "r-ig-ii.tmn.scc.kit.edu Vlan3529", "r-ig-ii.tmn.scc.kit.edu Vlan3529", "r-ig-i.tmn.scc.kit.edu Vlan3530", "r-ig-i.tmn.scc.kit.edu Vlan3530",
                "r-ig-i.tmn.scc.kit.edu Vlan3512", "r-ig-i.tmn.scc.kit.edu Vlan3512", "r-ig-ii.tmn.scc.kit.edu Vlan3516", "r-ig-ii.tmn.scc.kit.edu Vlan3516",
                "r-ig-ii.tmn.scc.kit.edu Vlan3529", "r-ig-ii.tmn.scc.kit.edu Vlan3529", "r-ig-i.tmn.scc.kit.edu Vlan3530", "r-ig-i.tmn.scc.kit.edu Vlan3530"]
legend_colors = ["#73BF69", "#F2CC0C", "#8AB8FF", "#FF780A", "#F2495C", "#5794F2", "#B877D9", "#705DA0",
                 "#37872D", "#FADE2A", "#447EBC", "#C15C17", "#890F02", "#0A437C", "#6D1F62", "#584477"]
legend_max = ["39.0 Gb/s", "29.2 Gb/s", "49.9 Gb/s", "35.5 Gb/s", "153 Gb/s", "122 Gb/s", "62.9 Gb/s", "83.4 Gb/s",
              "0 b/s", "0 b/s", "-505 kb/s", "-2.56 Mb/s", "-1.30 Mb/s", "-219 Mb/s", "0 b/s", "0 b/s"]
legend_min = ["0 b/s", "0 b/s", "2.00 Mb/s", "3.11 Mb/s", "52.2 Mb/s", "4.09 Gb/s", "0 b/s", "0 b/s",
              "-2.52 Gb/s", "-2.65 Gb/s", "-4.57 Gb/s", "-3.36 Gb/s", "-43.1 Gb/s", "-34.7 Gb/s", "-38.1 Gb/s", "-26.3 Gb/s"]
legend_mean = ["599 Mb/s", "122 Mb/s", "1.23 Gb/s", "278 Mb/s", "21.8 Gb/s", "39.3 Gb/s", "13.3 Gb/s", "35.3 Gb/s",
               "-143 Mb/s", "-286 Mb/s", "-287 Mb/s", "-351 Mb/s", "-3.70 Gb/s", "-6.35 Gb/s", "-2.77 Gb/s", "-8.34 Gb/s"]

# ---- layout constants (pixels of the 2334x923 page)
W, H = 2334, 923
PL, PR, PT, PB = 142.5, 1490.5, 109, 860
START = pd.Timestamp("2021-03-05")
FONT = "Roboto"
TXT = "#c7d0d9"

def when(pts):
    return [START + pd.Timedelta(days=p[0]) for p in pts]
def vals(pts):
    return [p[1] for p in pts]

fig = go.Figure()

def line(pts, color, width=1.3, fill=None, fillcolor=None):
    fig.add_trace(go.Scatter(x=when(pts), y=vals(pts), mode="lines", line=dict(color=color, width=width),
                             fill=fill, fillcolor=fillcolor, hoverinfo="skip", showlegend=False))
def area(pts, color):
    fig.add_trace(go.Scatter(x=when(pts), y=vals(pts), mode="lines", line=dict(width=0, color=color),
                             fill="tozeroy", fillcolor=color, hoverinfo="skip", showlegend=False))

# positive side
line(purple_out, "#7A5FAE", 1.7, "tozeroy", "rgba(112,93,160,0.2)")
line(purple_core, "#7A5FAE", 1.8, "tozeroy", "rgba(112,90,162,0.72)")
area(maroon_top, "#45232A")
area(navy_top, "#25344B")
line(blue_out, "#5794F2", 2.8)
line(violet_out, "#B877D9", 2.8)
# negative side
area(maroon_in, "#2C1618")
area(navy_dark_in, "#14222F")
line(purple_in, "#5F4A8E", 1.7, "tozeroy", "rgba(88,68,119,0.2)")
line(purple_in_core, "#5F4A8E", 1.6, "tozeroy", "rgba(95,74,142,0.55)")
line(navy_in, "#0A437C", 2.6)
line(magenta_in, "#6D1F62", 2.8)
# around zero
area(green_fill, "#1F3A2C")
area(orange_core, "#FF780A")
line(brown_in, "#C15C17", 3)
line(orange_out, "#EE7410", 2.2)
line(yellow_peaks, "#F2CC0C", 1.8)
line(yellow_band, "#E8C41A", 2.0)
line(red_out, "#F2495C", 1.6)
line(darkred_in, "#890F02", 2.8)

# table cells and title as text on a page-sized overlay axis
rows = [160 + 45.87 * i for i in range(16)]
def text(xs, ys, labels, pos, size, color, family=FONT):
    fig.add_trace(go.Scatter(x=xs, y=ys, text=labels, mode="text", textposition=pos, xaxis="x2", yaxis="y2",
                             textfont=dict(family=family, size=size, color=color), hoverinfo="skip", showlegend=False))

text([1167], [47], ["Traffic LHCOPN"], "middle center", 26, TXT, "Roboto Medium, Roboto")
text([1561] * 16, [y + 1.5 for y in rows], legend_names, "middle right", 23, TXT)
text([2018] * 16, [y + 1.5 for y in rows], legend_max, "middle left", 23, TXT)
text([2154] * 16, [y + 1.5 for y in rows], legend_min, "middle left", 23, TXT)
text([2290] * 16, [y + 1.5 for y in rows], legend_mean, "middle left", 23, TXT)
text([2018, 2154, 2290], [116] * 3, ["Max", "Min", "Mean"], "middle left", 22.5, "#6E9FFF")

shapes = [
    dict(type="rect", xref="paper", yref="paper", x0=10 / W, x1=2321 / W, y0=1 - 910 / H, y1=1 - 11 / H,
         fillcolor="#1A1B1F", line=dict(color="#24262B", width=1), layer="below"),
]
for y in [138 + 45.87 * i for i in range(17)]:
    shapes.append(dict(type="line", xref="paper", yref="paper", x0=1505 / W, x1=2305 / W, y0=1 - y / H, y1=1 - y / H,
                       line=dict(color="#25272B", width=2), layer="below"))
for y, c in zip(rows, legend_colors):
    shapes.append(dict(type="rect", xref="paper", yref="paper", x0=1520 / W, x1=1546 / W, y0=1 - (y + 4) / H, y1=1 - (y - 4) / H,
                       fillcolor=c, line=dict(width=0), layer="below"))
# page edges
shapes += [
    dict(type="rect", xref="paper", yref="paper", x0=0, x1=1, y0=1 - 4 / H, y1=1, fillcolor="#FFFFFF", line=dict(width=0), layer="above"),
    dict(type="rect", xref="paper", yref="paper", x0=0, x1=9 / W, y0=0, y1=1, fillcolor="#FFFFFF", line=dict(width=0), layer="above"),
    dict(type="rect", xref="paper", yref="paper", x0=2321 / W, x1=1, y0=0, y1=1, fillcolor="#FFFFFF", line=dict(width=0), layer="above"),
    dict(type="rect", xref="paper", yref="paper", x0=1984 / W, x1=2180 / W, y0=1 - 2 / H, y1=1, fillcolor="#1F8FB3", line=dict(width=0), layer="above"),
]
# the two hand-drawn ellipses
for cy, ry in [(408, 105), (776, 106)]:
    shapes.append(dict(type="circle", xref="paper", yref="paper", x0=1446 / W, x1=2414 / W, y0=1 - (cy + ry) / H, y1=1 - (cy - ry) / H,
                       line=dict(color="#C00000", width=10), fillcolor="rgba(0,0,0,0)", layer="above"))

fig.update_layout(
    width=W, height=H, autosize=False, margin=dict(l=0, r=0, t=0, b=0),
    paper_bgcolor="#111217", plot_bgcolor="rgba(0,0,0,0)", showlegend=False, shapes=shapes,
    font=dict(family=FONT, size=20, color=TXT),
    xaxis=dict(type="date", domain=[PL / W, PR / W], range=[START, START + pd.Timedelta(days=20)], automargin=False,
               tickmode="array", tickvals=[START + pd.Timedelta(days=2 * i) for i in range(10)], ticktext=tick_dates,
               showgrid=True, gridcolor="#2A2C30", gridwidth=1, zeroline=False, showline=False, ticks="outside", ticklen=3,
               tickcolor="rgba(0,0,0,0)", tickfont=dict(family=FONT, size=23, color=TXT), anchor="y"),
    yaxis=dict(domain=[1 - PB / H, 1 - PT / H], range=[-114.5, 240], tickmode="array", tickvals=y_ticks, ticktext=y_tick_labels, automargin=False,
               showgrid=True, gridcolor="#2A2C30", gridwidth=1, zeroline=False, showline=False, ticks="outside", ticklen=6,
               tickcolor="#2A2C30", tickfont=dict(family=FONT, size=23, color=TXT), anchor="x", ticklabelstandoff=5),
    xaxis2=dict(domain=[0, 1], range=[0, W], visible=False, anchor="y2", fixedrange=True, automargin=False),
    yaxis2=dict(domain=[0, 1], range=[H, 0], visible=False, anchor="x2", fixedrange=True, automargin=False),
)

fig.write_html("out.html", config=dict(displayModeBar=False),
               post_script="document.body.style.margin='0';document.body.style.background='#111217';")
